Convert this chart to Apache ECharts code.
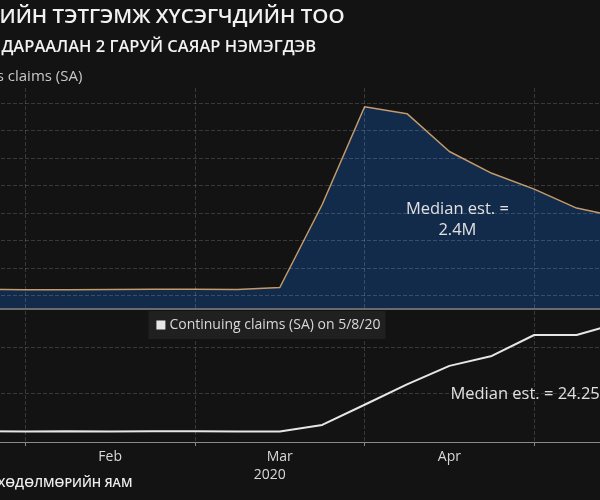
<!DOCTYPE html>
<html>
<head>
<meta charset="utf-8">
<script src="https://cdn.jsdelivr.net/npm/echarts@6/dist/echarts.min.js"></script>
<style>
html,body{margin:0;padding:0;background:#131313;width:600px;height:500px;overflow:hidden;position:relative;}
#chart{position:absolute;left:-17.4px;top:0;width:636.4px;height:500px;}
</style>
</head>
<body>
<div id="chart"></div>
<script>
// Weekly dates (week ending)
const weeks = ['2020-01-25','2020-02-01','2020-02-08','2020-02-15','2020-02-22','2020-02-29',
  '2020-03-07','2020-03-14','2020-03-21','2020-03-28','2020-04-04','2020-04-11',
  '2020-04-18','2020-04-25','2020-05-02','2020-05-09'];
// Initial jobless claims (SA), millions
const initialClaims = [0.216,0.202,0.205,0.210,0.219,0.217,0.211,0.282,3.307,6.867,6.615,5.237,4.442,3.867,3.176,2.85];
// Continuing claims (SA), millions
const continuingClaims = [1.72,1.70,1.71,1.70,1.72,1.72,1.70,1.70,3.10,7.47,11.9,15.9,18.05,22.6,22.6,25.2];
// Month labels (shown mid-month) and boundary ticks
const monthLabels = {'2020-02-15':'Feb','2020-03-14':'Mar','2020-04-11':'Apr'};
const yearLabel = '2020';
const boundaryWeeks = ['2020-02-01','2020-02-29','2020-03-28','2020-04-25'];
// Horizontal gridline values
const topGridValues = [0,1,2,3,4,5,6,7];
const bottomGridValues = [10,20];

const OFF = 17.4; // chart canvas is shifted left by this many px (plot is cropped on both sides)
const chart = echarts.init(document.getElementById('chart'));
const gridLine = {type:'dashed', color:'rgba(255,255,255,0.16)', width:1};
const isBoundary = (i) => boundaryWeeks.indexOf(weeks[i]) >= 0;
const isLabel = (i) => monthLabels[weeks[i]] !== undefined;

const option = {
  backgroundColor:'#131313',
  animation:false,
  textStyle:{fontFamily:'Open Sans'},
  grid:[
    {left:0, right:0, top:88, height:221},
    {left:0, right:0, top:311, height:131}
  ],
  xAxis:[
    {type:'category', gridIndex:0, data:weeks, boundaryGap:false, z:3,
     axisLine:{show:true, onZero:false, lineStyle:{color:'#6b6b6b', width:2}},
     axisTick:{show:false}, axisLabel:{show:false},
     splitLine:{show:true, interval:(i)=>isBoundary(i), lineStyle:gridLine}},
    {type:'category', gridIndex:1, data:weeks, boundaryGap:false, z:3,
     axisLine:{show:true, onZero:false, lineStyle:{color:'#8a8a8a', width:1}},
     axisTick:{show:true, length:4, interval:(i)=>isBoundary(i), lineStyle:{color:'#8a8a8a'}},
     axisLabel:{show:true, interval:(i)=>isLabel(i), margin:6,
       formatter:(v)=> v==='2020-03-14' ? '{m|'+monthLabels[v]+'}\n{y|'+yearLabel+'}' : '{m|'+(monthLabels[v]||'')+'}',
       rich:{
         m:{color:'#d8d8d8', fontSize:14, fontFamily:'Open Sans', lineHeight:18},
         y:{color:'#d8d8d8', fontSize:14, fontFamily:'Open Sans', lineHeight:18, padding:[0,20,0,0]}
       }},
     splitLine:{show:true, interval:(i)=>isBoundary(i), lineStyle:gridLine}}
  ],
  yAxis:[
    {type:'value', gridIndex:0, min:-0.5, max:7.55, show:false, splitLine:{show:false}},
    {type:'value', gridIndex:1, min:-0.6, max:27.8, show:false, splitLine:{show:false}}
  ],
  legend:[{
    data:['Continuing claims (SA) on 5/8/20'],
    left:148+OFF, top:311, padding:[7,5,7,8],
    backgroundColor:'#202020',
    icon:'rect', itemWidth:9, itemHeight:9, itemGap:4,
    textStyle:{color:'#d8d8d8', fontSize:14, fontFamily:'Open Sans', padding:[0,0,0,-1]}
  }],
  series:[
    {name:'Initial jobless claims (SA)', type:'line', xAxisIndex:0, yAxisIndex:0,
     data:initialClaims, symbol:'none', z:2,
     lineStyle:{color:'#c39a6b', width:1.5},
     itemStyle:{color:'#c39a6b'},
     areaStyle:{color:'#132b4b', opacity:1, origin:'start'},
     markLine:{silent:true, symbol:'none', label:{show:false}, animation:false,
       lineStyle:gridLine, data:topGridValues.map(v=>({yAxis:v}))}},
    {name:'Continuing claims (SA) on 5/8/20', type:'line', xAxisIndex:1, yAxisIndex:1,
     data:continuingClaims, symbol:'none', z:2,
     lineStyle:{color:'#e6e6e6', width:2},
     itemStyle:{color:'#e6e6e6'},
     markLine:{silent:true, symbol:'none', label:{show:false}, animation:false,
       lineStyle:gridLine, data:bottomGridValues.map(v=>({yAxis:v}))}}
  ],
  graphic:[
    {type:'text', z:100, x:-1+OFF, y:17, style:{text:'ИЙН ТЭТГЭМЖ ХҮСЭГЧДИЙН ТОО', fill:'#f2f2f2', font:'600 20.5px "Open Sans"', verticalAlign:'middle'}},
    {type:'text', z:100, x:1+OFF, y:47, style:{text:'ДАРААЛАН 2 ГАРУЙ САЯАР НЭМЭГДЭВ', fill:'#f2f2f2', font:'600 16.5px "Open Sans"', verticalAlign:'middle'}},
    {type:'text', z:100, x:82+OFF, y:77, style:{text:'s claims (SA)', fill:'#c8c8c8', font:'15px "Open Sans"', align:'right', verticalAlign:'middle'}},
    {type:'text', z:100, x:132+OFF, y:483, style:{text:'ХӨДӨЛМӨРИЙН ЯАМ', fill:'#eeeeee', font:'600 12.5px "Open Sans"', align:'right', verticalAlign:'middle'}},
    {type:'text', z:100, x:457+OFF, y:220, style:{text:'Median est. =\n2.4M', fill:'#e0e0e0', font:'16.5px "Open Sans"', align:'center', verticalAlign:'middle', lineHeight:21}},
    {type:'text', z:100, x:450+OFF, y:394, style:{text:'Median est. = 24.25M', fill:'#e0e0e0', font:'16.5px "Open Sans"', align:'left', verticalAlign:'middle'}}
  ]
};
chart.setOption(option);
</script>
</body>
</html>
